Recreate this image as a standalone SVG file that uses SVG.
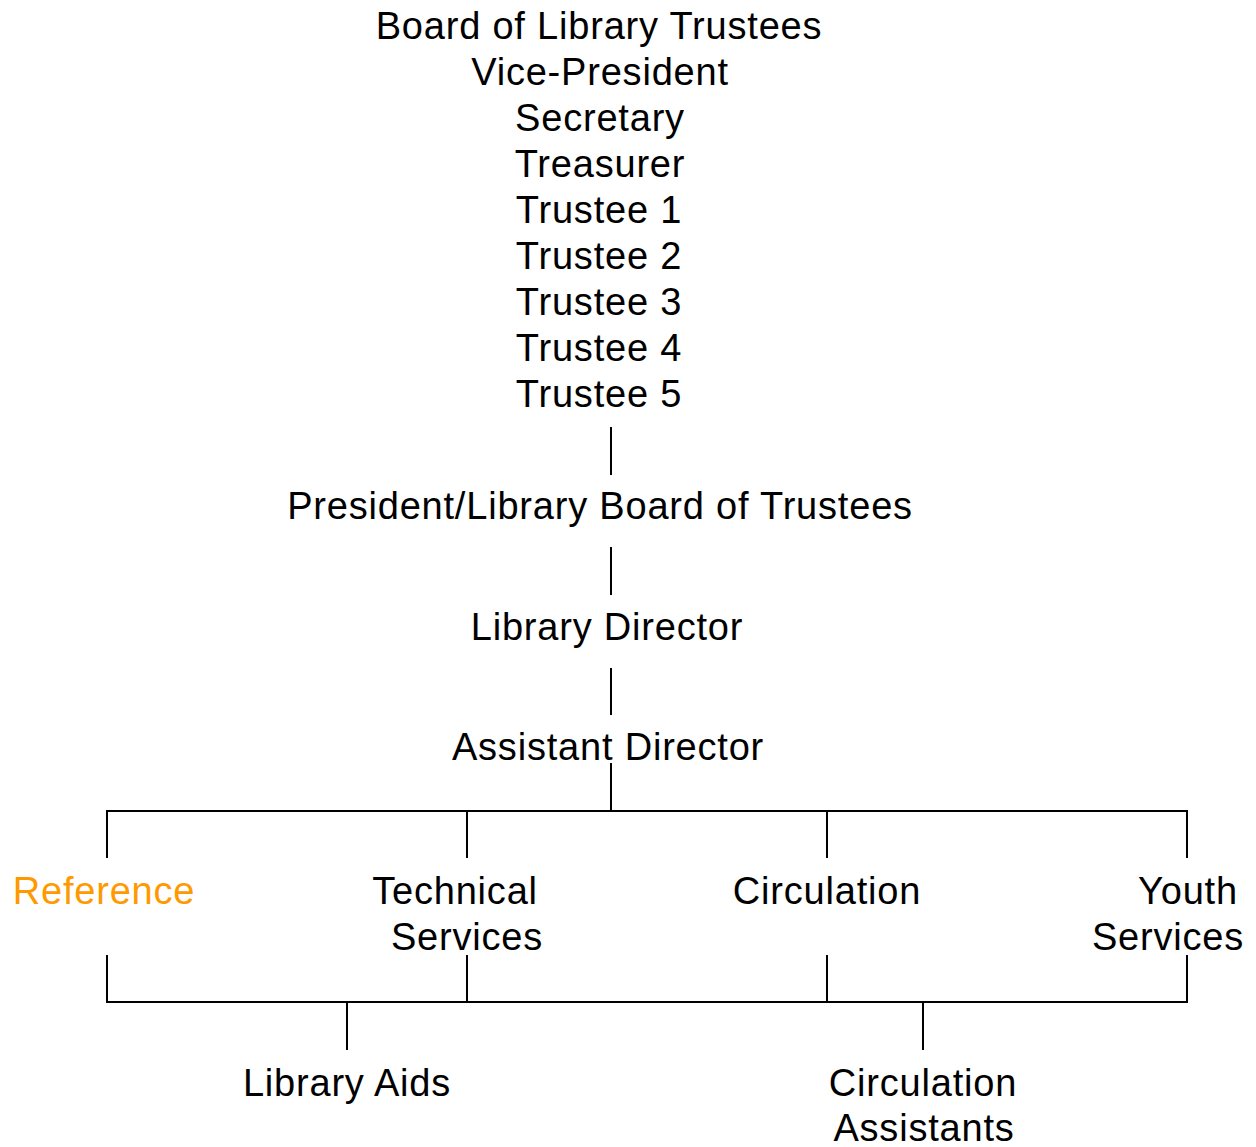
<svg xmlns="http://www.w3.org/2000/svg" width="1256" height="1147" viewBox="0 0 1256 1147">
<style>
text{font-family:"Liberation Sans",Arial,sans-serif;font-size:38px;letter-spacing:0.8px;fill:#000;text-anchor:middle}
.hl{fill:#FF9900}
.c line{stroke:#000;stroke-width:2;fill:none}
</style>
<rect width="1256" height="1147" fill="#fff"/>
<g class="c" id="connectors">
<line x1="611" y1="427" x2="611" y2="475"/>
<line x1="611" y1="547" x2="611" y2="595"/>
<line x1="611" y1="668" x2="611" y2="715"/>
<line x1="611" y1="763" x2="611" y2="811"/>
<line x1="106" y1="811" x2="1188" y2="811"/>
<line x1="107" y1="811" x2="107" y2="858"/>
<line x1="467" y1="811" x2="467" y2="858"/>
<line x1="827" y1="811" x2="827" y2="858"/>
<line x1="1187" y1="811" x2="1187" y2="858"/>
<line x1="107" y1="955" x2="107" y2="1002"/>
<line x1="467" y1="955" x2="467" y2="1002"/>
<line x1="827" y1="955" x2="827" y2="1002"/>
<line x1="1187" y1="955" x2="1187" y2="1002"/>
<line x1="106" y1="1002" x2="1188" y2="1002"/>
<line x1="347" y1="1002" x2="347" y2="1050"/>
<line x1="923" y1="1002" x2="923" y2="1050"/>
</g>
<g id="board">
<text x="599" y="39">Board of Library Trustees</text>
<text x="600" y="85">Vice-President</text>
<text x="600" y="131">Secretary</text>
<text x="600" y="177">Treasurer</text>
<text x="599" y="223">Trustee 1</text>
<text x="599" y="269">Trustee 2</text>
<text x="599" y="315">Trustee 3</text>
<text x="599" y="361">Trustee 4</text>
<text x="599" y="407">Trustee 5</text>
</g>
<g id="president"><text x="600" y="519">President/Library Board of Trustees</text></g>
<g id="director"><text x="607" y="640">Library Director</text></g>
<g id="assistant-director"><text x="608" y="760">Assistant Director</text></g>
<g id="reference"><text class="hl" x="104" y="904">Reference</text></g>
<g id="technical-services"><text x="455" y="904">Technical</text><text x="467" y="950">Services</text></g>
<g id="circulation"><text x="827" y="904">Circulation</text></g>
<g id="youth-services"><text x="1188" y="904">Youth</text><text x="1168" y="950">Services</text></g>
<g id="library-aids"><text x="347" y="1096">Library Aids</text></g>
<g id="circulation-assistants"><text x="923" y="1096">Circulation</text><text x="924" y="1141">Assistants</text></g>
</svg>
